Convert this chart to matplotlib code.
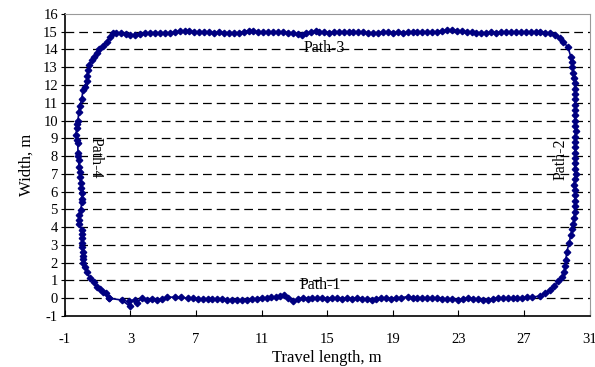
import matplotlib
matplotlib.use("Agg")
import matplotlib.pyplot as plt
import numpy as np

plt.rcParams['font.family'] = ['Liberation Serif', 'DejaVu Serif']
plt.rcParams['axes.unicode_minus'] = False

# Path-1 (bottom, left to right)
p1_x = [1.67, 2.46, 2.95, 2.9, 3.25, 3.4, 3.7, 4.0, 4.3, 4.6, 4.9, 5.25, 5.7, 6.1, 6.5, 6.8, 7.1, 7.4, 7.7, 8.0,
        8.3, 8.6, 8.9, 9.2, 9.5, 9.8, 10.1, 10.4, 10.7, 11.0, 11.3, 11.6, 11.9, 12.1, 12.36, 12.6, 12.9, 13.2, 13.5,
        13.8, 14.1, 14.4, 14.7, 15.0, 15.3, 15.6, 15.9, 16.2, 16.5, 16.8, 17.1, 17.4, 17.7, 18.0, 18.3, 18.6, 18.9,
        19.2, 19.5, 19.9, 20.2, 20.5, 20.8, 21.1, 21.4, 21.7, 22.0, 22.3, 22.6, 23.0, 23.3, 23.6, 23.9, 24.2, 24.5,
        24.8, 25.1, 25.4, 25.7, 26.0, 26.3, 26.6, 26.9, 27.2, 27.5]
p1_y = [0.0, -0.1, -0.44, -0.15, -0.1, -0.25, 0.0, -0.1, -0.05, -0.08, -0.05, 0.07, 0.05, 0.05, 0.0, 0.02, -0.02,
        -0.05, -0.03, -0.05, -0.02, -0.06, -0.08, -0.1, -0.12, -0.1, -0.08, -0.04, -0.02, 0.0, 0.04, 0.06, 0.08,
        0.1, 0.18, 0.02, -0.14, -0.05, 0.0, -0.02, 0.0, 0.02, 0.0, -0.02, 0.0, 0.01, -0.03, 0.0, -0.02, 0.0, -0.03,
        -0.06, -0.1, -0.02, 0.0, 0.0, -0.02, 0.02, 0.04, 0.08, 0.03, 0.02, 0.03, 0.02, 0.0, 0.02, -0.02, -0.05,
        -0.06, -0.1, -0.02, 0.0, -0.02, -0.04, -0.08, -0.1, -0.02, 0.0, 0.01, 0.0, 0.0, 0.0, 0.02, 0.05, 0.07]

# Path-2 (right, bottom to top)
p2_x = [28.0, 28.3, 28.6, 28.85, 29.1, 29.3, 29.45, 29.5, 29.55, 29.6, 29.75, 29.85, 29.95, 30.0, 30.05, 30.08,
        30.08, 30.1, 30.12, 30.1, 30.05, 30.1, 30.15, 30.1, 30.08, 30.1, 30.12, 30.1, 30.08, 30.1, 30.15, 30.12,
        30.1, 30.08, 30.1, 30.12, 30.1, 30.1, 30.08, 30.1, 30.05, 30.0, 29.95, 29.9, 29.85, 29.67, 29.4, 29.2,
        28.9, 28.6, 28.3, 28.0]
p2_y = [0.12, 0.28, 0.46, 0.7, 0.95, 1.2, 1.48, 1.8, 2.15, 2.6, 3.1, 3.56, 3.9, 4.2, 4.5, 4.85, 5.2, 5.5, 5.8,
        6.1, 6.4, 6.7, 7.0, 7.3, 7.6, 7.9, 8.2, 8.5, 8.8, 9.1, 9.4, 9.7, 10.0, 10.3, 10.6, 10.9, 11.2, 11.5, 11.8,
        12.1, 12.4, 12.7, 13.0, 13.3, 13.6, 14.15, 14.4, 14.65, 14.8, 14.9, 14.95, 15.0]

# Path-3 (top, right to left)
p3_x = [27.7, 27.4, 27.1, 26.8, 26.5, 26.2, 25.9, 25.6, 25.3, 25.0, 24.7, 24.4, 24.1, 23.8, 23.5, 23.2, 22.9,
        22.6, 22.3, 22.0, 21.7, 21.4, 21.1, 20.8, 20.5, 20.2, 19.9, 19.6, 19.3, 19.0, 18.7, 18.4, 18.1, 17.8, 17.5,
        17.2, 16.9, 16.6, 16.3, 16.0, 15.7, 15.4, 15.1, 14.8, 14.5, 14.3, 14.0, 13.7, 13.45, 13.2, 12.9, 12.6,
        12.3, 12.0, 11.7, 11.4, 11.1, 10.8, 10.5, 10.2, 9.9, 9.6, 9.3, 9.0, 8.7, 8.4, 8.1, 7.8, 7.5, 7.2, 6.9,
        6.6, 6.3, 6.0, 5.7, 5.4, 5.1, 4.8, 4.5, 4.2, 3.9, 3.6, 3.3, 3.0, 2.7, 2.4, 2.1, 1.95]
p3_y = [15.0, 14.98, 14.97, 14.98, 15.0, 14.97, 14.96, 14.97, 14.95, 14.96, 14.94, 14.92, 14.94, 14.97, 14.99,
        15.02, 15.06, 15.1, 15.08, 15.04, 15.0, 14.97, 14.96, 14.97, 14.98, 14.97, 14.96, 14.95, 14.96, 14.95,
        14.96, 14.97, 14.95, 14.92, 14.94, 14.96, 14.97, 14.96, 14.97, 14.96, 14.97, 14.96, 14.95, 14.97, 15.0,
        15.05, 14.98, 14.9, 14.84, 14.88, 14.92, 14.95, 14.96, 14.97, 14.96, 14.97, 14.98, 14.99, 15.02, 15.05,
        15.0, 14.94, 14.93, 14.95, 14.95, 14.96, 14.95, 14.97, 14.98, 14.97, 15.0, 15.03, 15.05, 15.02, 14.97,
        14.94, 14.93, 14.94, 14.95, 14.94, 14.92, 14.88, 14.84, 14.82, 14.87, 14.9, 14.92, 14.9]

# Path-4 (left, top to bottom)
p4_x = [1.73, 1.55, 1.3, 1.1, 0.94, 0.8, 0.64, 0.5, 0.4, 0.36, 0.34, 0.2, 0.1, 0.03, -0.09, -0.15, -0.2, -0.25,
        -0.27, -0.33, -0.25, -0.21, -0.2, -0.18, -0.15, -0.15, -0.1, -0.09, -0.03, 0.0, 0.03, 0.03, 0.03, -0.03,
        -0.15, -0.15, -0.15, 0.03, 0.03, 0.03, 0.05, 0.07, 0.1, 0.1, 0.12, 0.13, 0.2, 0.34, 0.52, 0.76, 0.94,
        1.12, 1.3, 1.5, 1.67]
p4_y = [14.7, 14.4, 14.2, 14.0, 13.8, 13.6, 13.4, 13.1, 12.85, 12.5, 12.2, 11.9, 11.7, 11.2, 10.8, 10.5, 10.0,
        9.8, 9.6, 9.2, 8.9, 8.74, 8.2, 8.0, 7.8, 7.4, 7.1, 6.8, 6.5, 6.2, 5.9, 5.6, 5.4, 4.97, 4.7, 4.4, 4.2,
        3.85, 3.6, 3.4, 3.1, 2.9, 2.6, 2.4, 2.2, 2.0, 1.76, 1.48, 1.14, 0.91, 0.63, 0.52, 0.35, 0.3, 0.0]

labels = ["Path-1", "Path-2", "Path-3", "Path-4"]
x_ticks = [-1, 3, 7, 11, 15, 19, 23, 27, 31]
y_ticks = list(range(-1, 17))

xs = np.array(p1_x + p2_x + p3_x + p4_x)
ys = np.array(p1_y + p2_y + p3_y + p4_y)

fig = plt.figure(figsize=(5.95, 3.67), dpi=100)
ax = fig.add_axes([0.109, 0.139, 0.882, 0.823])

for yv in range(0, 16):
    ax.axhline(yv, color='black', lw=0.9, ls=(0, (7, 4)), zorder=1)

ax.plot(xs, ys, color='#000080', lw=1.2, marker='D', markersize=3.3, zorder=3)

ax.set_xlim(-1, 31)
ax.set_ylim(-1, 16)
ax.set_xticks(x_ticks)
ax.set_yticks(y_ticks)
ax.tick_params(axis='x', direction='in', length=4, labelsize=10.5, pad=12)
ax.tick_params(axis='y', direction='out', length=3, labelsize=10.5, pad=2)
for s in ['top', 'right']:
    ax.spines[s].set_color('#999999')
for s in ['left', 'bottom']:
    ax.spines[s].set_color('black')
    ax.spines[s].set_linewidth(1.2)

ax.set_xlabel("Travel length, m", fontsize=12, labelpad=3)
ax.set_ylabel("Width, m", fontsize=12, labelpad=6)

ax.text(14.6, 0.3, labels[0], fontsize=11.5, ha='center', va='bottom', zorder=4)
ax.text(29.2, 7.8, labels[1], fontsize=11.5, ha='center', va='center', rotation=90, zorder=4)
ax.text(14.8, 14.1, labels[2], fontsize=11.5, ha='center', va='center', zorder=4)
ax.text(0.85, 7.9, labels[3], fontsize=11.5, ha='center', va='center', rotation=-90, zorder=4)

fig.savefig("out.png", dpi=100)
